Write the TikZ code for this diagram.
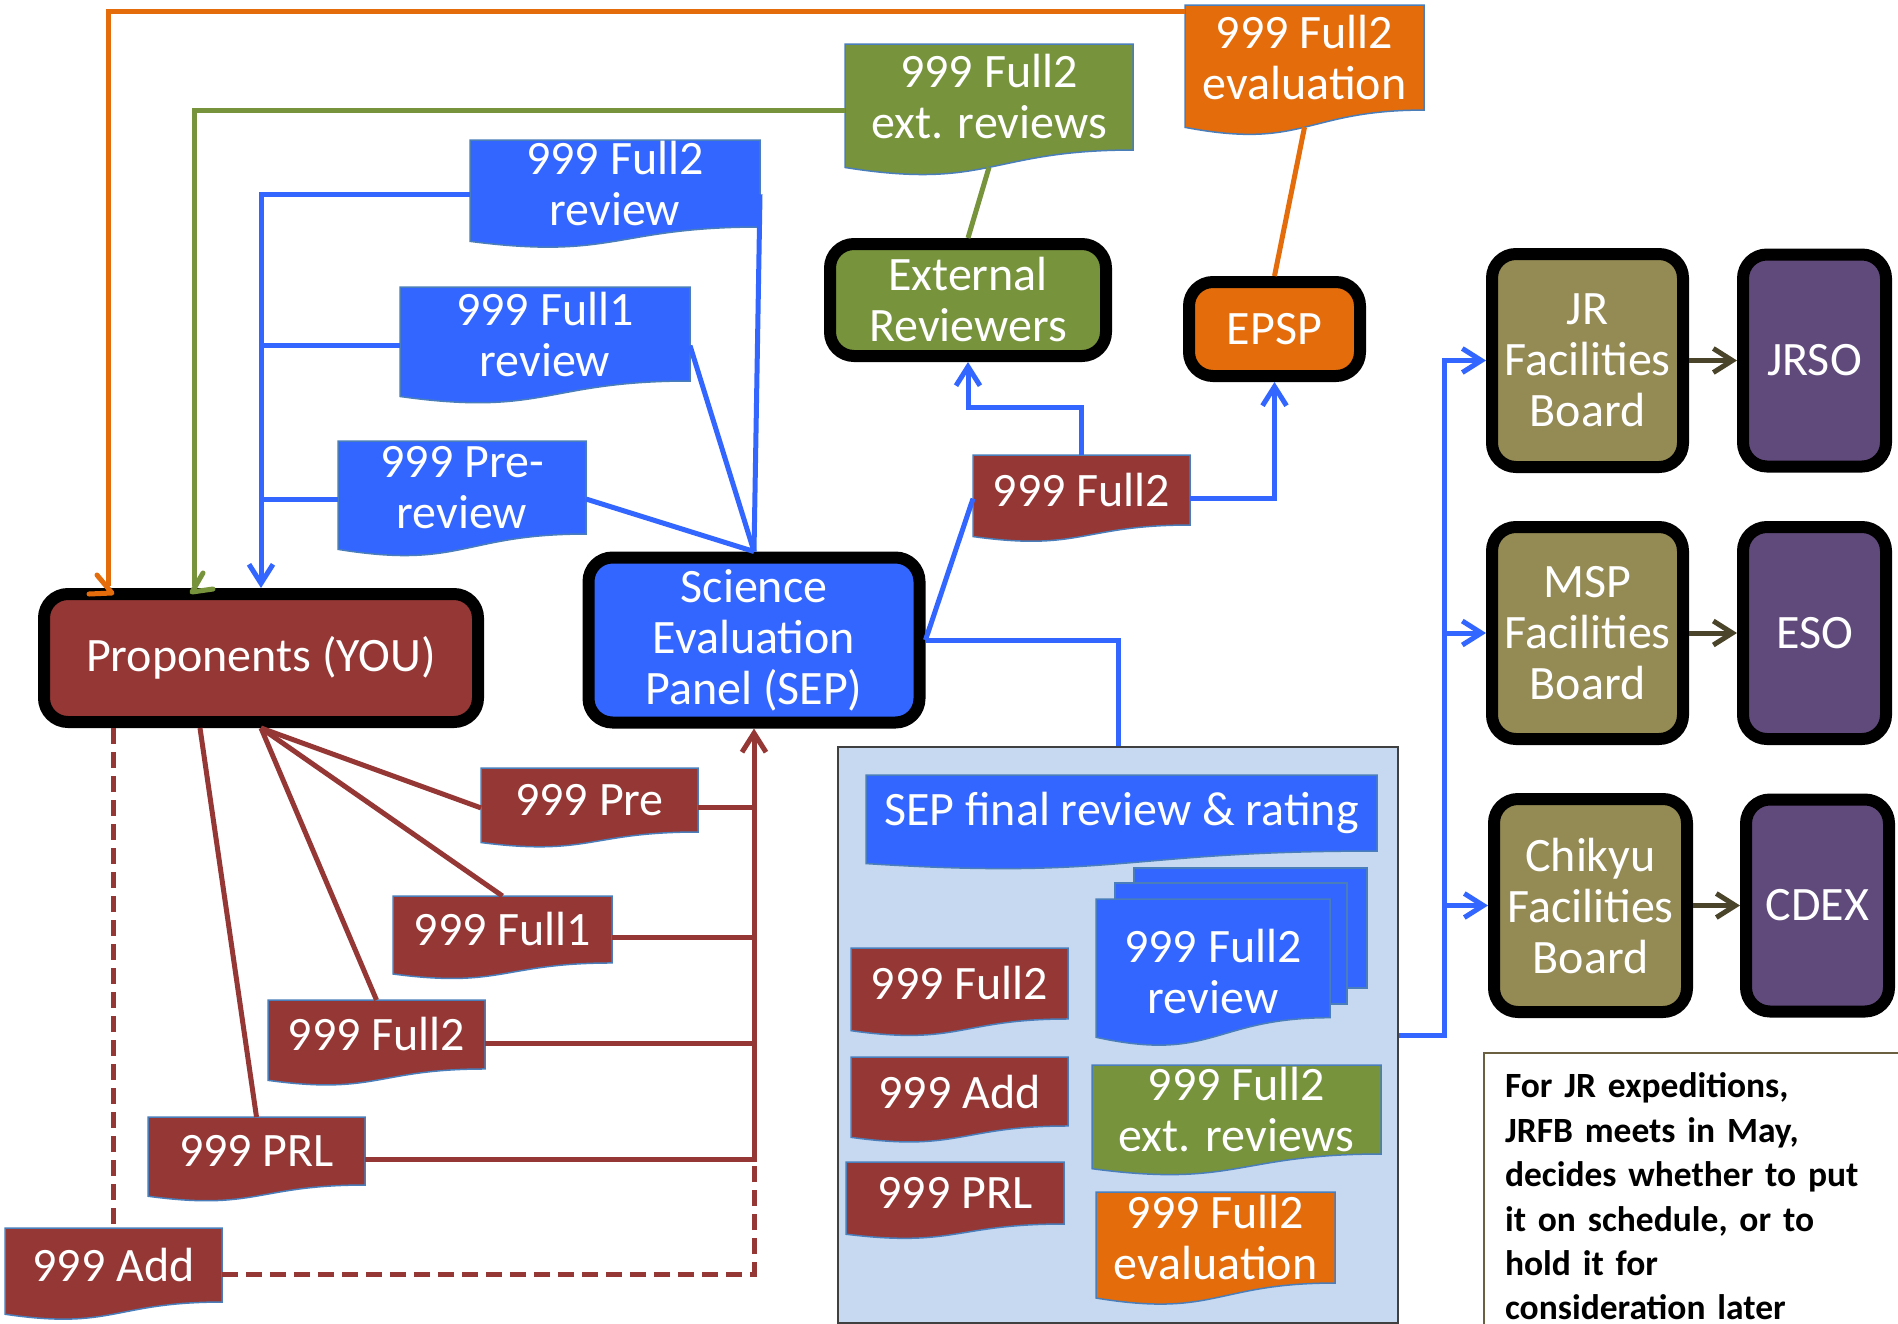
\documentclass[tikz,border=0pt]{standalone}
\usepackage{fontspec}
\setmainfont{Carlito}
\usetikzlibrary{arrows.meta}

\definecolor{cblue}{HTML}{3366FF}
\definecolor{cred}{HTML}{953735}
\definecolor{cgreen}{HTML}{77933C}
\definecolor{corange}{HTML}{E46C0A}
\definecolor{colive}{HTML}{948A54}
\definecolor{cpurple}{HTML}{604A7B}
\definecolor{cpale}{HTML}{C6D9F1}
\definecolor{cdark}{HTML}{4A452A}
\definecolor{cedge}{HTML}{4A7EBB}
\definecolor{cnote}{HTML}{6B6040}

\tikzset{
  big/.style={font=\fontsize{48}{51}\selectfont, text=white, align=center},
  unitbox/.style={draw=black, line width=12pt, rounded corners=24pt, inner sep=0pt, big},
  docline/.style={draw=cedge, line width=1.5pt},
  conn/.style={line width=5pt},
  thinconn/.style={line width=5pt},
  tip/.style={-{Straight Barb[length=19pt,width=24pt]}},
  dashline/.style={dash pattern=on 16pt off 8pt},
  chevron/.style={line width=5pt, line cap=round, line join=round},
}

% Flowchart "document" sheet: rectangle with a wavy lower edge.
% [#1] extra downward offset of the text, #2 fill, #3 name, #4 left, #5 top,
% #6 right, #7 full height, #8 text
\newcommand\docshape[8][0]{%
  \filldraw[docline, fill=#2] (#4,#5) -- (#6,#5) -- (#6,{#5+0.802*#7})
     .. controls ({(#4+#6)/2},{#5+0.802*#7}) and ({(#4+#6)/2},{#5+1.1075*#7}) ..
     (#4,{#5+0.934*#7}) -- cycle;
  \node[big, inner sep=0pt, minimum width={#6-#4}, minimum height={0.802*#7}]
     (#3) at ({(#4+#6)/2},{#5+0.401*#7+#1}) {#8};
  \coordinate (#3-n) at ({(#4+#6)/2},#5);
  \coordinate (#3-w) at (#4,{#5+0.5*#7});
  \coordinate (#3-e) at (#6,{#5+0.5*#7});
  \coordinate (#3-s) at ({(#4+#6)/2},{#5+0.933*#7});
}

\begin{document}
\begin{tikzpicture}[x=1pt,y=-1pt]
\useasboundingbox (0,0) rectangle (1898,1323);
\clip (0,0) rectangle (1898,1323);
\fill[white] (0,0) rectangle (1898,1323);

% ---- main units ----
\node[unitbox, fill=cred, minimum width=434pt, minimum height=128pt] (prop) at (261,658) {Proponents (YOU)};
\node[unitbox, fill=cblue, minimum width=331pt, minimum height=165pt] (sep) at (754,640) {Science\\Evaluation\\Panel (SEP)};
\node[unitbox, fill=cgreen, minimum width=276pt, minimum height=112pt] (er) at (968,300) {External\\Reviewers};
\node[unitbox, fill=corange, minimum width=171pt, minimum height=94pt] (epsp) at (1274.5,329) {EPSP};

\node[unitbox, fill=colive, minimum width=191pt, minimum height=213pt] (jr) at (1587.5,360.5) {JR\\Facilities\\Board};
\node[unitbox, fill=cpurple, minimum width=143pt, minimum height=212pt] (jrso) at (1814.5,360.5) {JRSO};
\node[unitbox, fill=colive, minimum width=191pt, minimum height=212pt] (msp) at (1587.5,633) {MSP\\Facilities\\Board};
\node[unitbox, fill=cpurple, minimum width=143pt, minimum height=212pt] (eso) at (1814.5,633) {ESO};
\node[unitbox, fill=colive, minimum width=193pt, minimum height=213pt] (chik) at (1590.5,905.5) {Chikyu\\Facilities\\Board};
\node[unitbox, fill=cpurple, minimum width=143pt, minimum height=212pt] (cdex) at (1817.5,905.5) {CDEX};

% ---- final review stage ----
\node[draw=black!75, line width=1.5pt, fill=cpale, inner sep=0pt,
      minimum width=560pt, minimum height=576pt] (cont) at (1118,1035) {};
\docshape{cblue}{final}{866}{775}{1377}{94.8}{SEP final review \& rating}
\filldraw[docline, fill=cblue] (1134,868) rectangle (1367,988);
\filldraw[docline, fill=cblue] (1115,883) rectangle (1347,1004);
\docshape[13]{cblue}{stack}{1096}{899}{1330}{148}{999 Full2\\review}
\docshape{cred}{inf2}{851}{948}{1068}{88.5}{999 Full2}
\docshape{cred}{inadd}{851}{1057}{1068}{86}{999 Add}
\docshape{cred}{inprl}{846}{1162}{1064}{77.3}{999 PRL}
\docshape{cgreen}{inext}{1092}{1065}{1381}{111}{999 Full2\\ext. reviews}
\docshape{corange}{ineval}{1096}{1192}{1335}{113.5}{999 Full2\\evaluation}

% ---- documents passed around ----
\docshape{cblue}{rev2}{470}{140}{760}{108.5}{999 Full2\\review}
\docshape{cblue}{rev1}{400}{287}{690}{117.2}{999 Full1\\review}
\docshape{cblue}{prerev}{338}{441}{586}{116}{999 Pre-\\review}
\docshape{cgreen}{ext}{845}{44}{1133}{132.2}{999 Full2\\ext. reviews}
\docshape{corange}{eval}{1185}{5}{1424}{131}{999 Full2\\evaluation}
\docshape{cred}{f2m}{973}{455}{1190}{87.3}{999 Full2}
\docshape{cred}{pre}{481}{768}{698}{79.8}{999 Pre}
\docshape{cred}{f1}{393}{896}{612}{83.5}{999 Full1}
\docshape{cred}{f2}{268}{1000}{485}{86}{999 Full2}
\docshape{cred}{prl}{148}{1117}{365}{84.8}{999 PRL}
\docshape{cred}{add}{5}{1228}{222}{92.3}{999 Add}

% ---- note ----
\node[draw=cnote, line width=2pt, fill=white, anchor=north west, inner xsep=21pt,
      inner ysep=20pt, text width=375pt, align=left,
      font=\fontsize{35.5}{44.4}\selectfont\bfseries] (note) at (1483,1052)
  {For JR expeditions,\\JRFB meets in May,\\decides whether to put\\it on schedule, or to\\hold it for\\consideration later\\[20pt]};

% ---- proposals from proponents to SEP ----
\draw[conn, cred] (prop.south) -- (pre-w);
\draw[conn, cred] (prop.south) -- (f1-n);
\draw[conn, cred] (prop.south) -- (f2-n);
\draw[conn, cred] ([xshift=-61pt]prop.south) -- (prl-n);
\draw[conn, cred, dashline] (add-n |- prop.south) -- (add-n);
\draw[conn, cred] (pre-e) -- (pre-e -| sep.south);
\draw[conn, cred] (f1-e) -- (f1-e -| sep.south);
\draw[conn, cred] (f2-e) -- (f2-e -| sep.south);
\draw[conn, cred, tip] (prl-e) -| (sep.south);
\draw[conn, cred, dashline] (add-e) -| (prl-e -| sep.south);

% ---- reviews returned to proponents ----
\draw[conn, cblue] (rev2-e) -- (sep.north);
\draw[conn, cblue] (rev1-e) -- (sep.north);
\draw[conn, cblue] (prerev-e) -- (sep.north);
\draw[conn, cblue, tip] (rev2-w) -| (prop.north);
\draw[conn, cblue] (rev1-w) -- (rev1-w -| prop.north);
\draw[conn, cblue] (prerev-w) -- (prerev-w -| prop.north);

\draw[thinconn, cgreen, shorten >=2pt] (ext-w) -| ([xshift=-67pt]prop.north);
\draw[chevron, cgreen] (203,573) -- (192,592) -- (213,589);
\draw[thinconn, corange, shorten >=2pt] ([yshift=-7pt]eval.north west) -| ([xshift=-153pt]prop.north);
\draw[chevron, corange] (97,575) -- (112,593) -- (89,594);

\draw[thinconn, cgreen] (ext-s) -- (er.north);
\draw[thinconn, corange] (eval-s) -- (epsp.north);

% ---- Full2 proposal sent out for review and safety ----
\draw[conn, cblue] (sep.east) -- (f2m-w);
\draw[conn, cblue, tip] (f2m-n) -- ++(0,-48) -| (er.south);
\draw[conn, cblue, tip] (f2m-e) -| (epsp.south);

% ---- final rating forwarded to the facility boards ----
\draw[conn, cblue] (sep.east) -| (cont.north);
\draw[conn, cblue, tip] (cont.east) -- ++(46,0) coordinate (bus) |- (jr.west);
\draw[conn, cblue, tip] (bus |- msp.west) -- (msp.west);
\draw[conn, cblue, tip] (bus |- chik.west) -- (chik.west);

\draw[conn, cdark, tip] (jr.east) -- (jrso.west);
\draw[conn, cdark, tip] (msp.east) -- (eso.west);
\draw[conn, cdark, tip] (chik.east) -- (cdex.west);
\end{tikzpicture}
\end{document}
